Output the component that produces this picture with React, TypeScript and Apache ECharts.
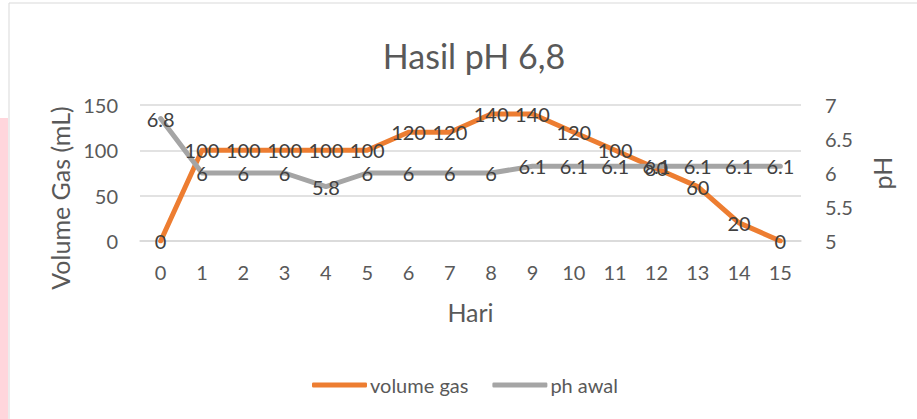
import React, { useEffect, useRef } from "react";
import * as echarts from "echarts";

const days = ["0", "1", "2", "3", "4", "5", "6", "7", "8", "9", "10", "11", "12", "13", "14", "15"];
const volumeGas = [0, 100, 100, 100, 100, 100, 120, 120, 140, 140, 120, 100, 80, 60, 20, 0];
const phAwal = [6.8, 6, 6, 6, 5.8, 6, 6, 6, 6, 6.1, 6.1, 6.1, 6.1, 6.1, 6.1, 6.1];

const FONT = "Lato";
const TXT = "#595959";
const LBL = "#404040";

export default function App() {
  const ref = useRef<HTMLDivElement>(null);
  useEffect(() => {
    document.body.style.margin = "0";
    if (!ref.current) return;
    const chart = echarts.init(ref.current, undefined, { renderer: "svg" });
    chart.setOption({
      animation: false,
      backgroundColor: "#ffffff",
      textStyle: { fontFamily: FONT },
      graphic: [
        { type: "rect", shape: { x: 0, y: 118, width: 8, height: 302 }, style: { fill: "#ffd6dc" }, silent: true },
        { type: "line", shape: { x1: 9, y1: 3, x2: 9, y2: 419 }, style: { stroke: "#d9d9d9", lineWidth: 1 }, silent: true },
        { type: "line", shape: { x1: 9, y1: 3, x2: 917, y2: 3 }, style: { stroke: "#d9d9d9", lineWidth: 1 }, silent: true },
      ],
      title: {
        text: "Hasil pH 6,8",
        left: 469,
        textAlign: "center",
        top: 33,
        textStyle: { fontFamily: FONT, fontSize: 34, fontWeight: "normal", color: TXT },
      },
      legend: {
        left: 307,
        top: 370,
        icon: "roundRect",
        itemWidth: 55,
        itemHeight: 5,
        itemGap: 24,
        textStyle: { fontFamily: FONT, fontSize: 20, color: TXT, padding: [0, 0, 0, -2] },
        data: ["volume gas", "ph awal"],
      },
      grid: { left: 140, right: 116, top: 105, bottom: 178, containLabel: false },
      xAxis: {
        type: "category",
        data: days,
        boundaryGap: true,
        name: "Hari",
        nameLocation: "middle",
        nameGap: 58,
        nameTextStyle: { fontFamily: FONT, fontSize: 25, color: TXT },
        axisLine: { show: true, lineStyle: { color: "#d9d9d9", width: 1.5 } },
        axisTick: { show: false },
        axisLabel: { fontFamily: FONT, fontSize: 20, color: TXT, margin: 21 },
      },
      yAxis: [
        {
          type: "value",
          min: 0,
          max: 150,
          interval: 50,
          name: "Volume Gas (mL)",
          nameLocation: "middle",
          nameRotate: 90,
          nameGap: 66,
          nameTextStyle: { fontFamily: FONT, fontSize: 25, color: TXT, padding: [0, 50, 0, 0] },
          axisLine: { show: false },
          axisTick: { show: false },
          axisLabel: { fontFamily: FONT, fontSize: 20, color: TXT, margin: 22 },
          splitLine: { show: true, lineStyle: { color: "#d9d9d9", width: 1.5 } },
        },
        {
          type: "value",
          min: 5,
          max: 7,
          interval: 0.5,
          position: "right",
          name: "pH",
          nameLocation: "middle",
          nameRotate: 90,
          nameGap: 68,
          nameTextStyle: { fontFamily: FONT, fontSize: 25, color: TXT },
          axisLine: { show: false },
          axisTick: { show: false },
          axisLabel: { fontFamily: FONT, fontSize: 20, color: TXT, margin: 24 },
          splitLine: { show: false },
        },
      ],
      series: [
        {
          name: "volume gas",
          type: "line",
          data: volumeGas,
          yAxisIndex: 0,
          symbol: "circle",
          symbolSize: 1,
          showSymbol: true,
          itemStyle: { color: "#ED7D31" },
          lineStyle: { color: "#ED7D31", width: 5, cap: "round", join: "round" },
          label: { show: true, position: "inside", fontFamily: FONT, fontSize: 20, color: LBL },
        },
        {
          name: "ph awal",
          type: "line",
          data: phAwal,
          yAxisIndex: 1,
          symbol: "circle",
          symbolSize: 1,
          showSymbol: true,
          itemStyle: { color: "#A5A5A5" },
          lineStyle: { color: "#A5A5A5", width: 5, cap: "round", join: "round" },
          label: { show: true, position: "inside", fontFamily: FONT, fontSize: 20, color: LBL },
        },
      ],
    });
    return () => chart.dispose();
  }, []);
  return <div ref={ref} style={{ width: 917, height: 419 }} />;
}
